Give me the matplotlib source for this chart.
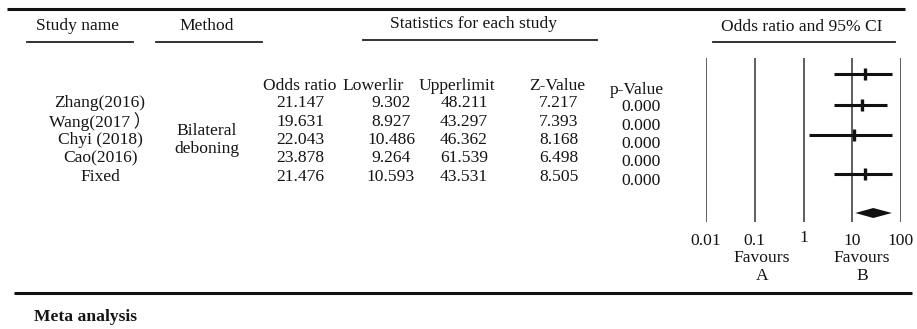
import matplotlib
matplotlib.use("Agg")
import matplotlib.pyplot as plt

# ---------------- data ----------------
studies = ["Zhang(2016)", "Wang(2017\u202f）", "Chyi (2018)", "Cao(2016)", "Fixed"]
method = "Bilateral\ndeboning"
odds_ratio = [21.147, 19.631, 22.043, 23.878, 21.476]
lower_limit = [9.302, 8.927, 10.486, 9.264, 10.593]
upper_limit = [48.211, 43.297, 46.362, 61.539, 43.531]
z_value = [7.217, 7.393, 8.168, 6.498, 8.505]
p_value = [0.000, 0.000, 0.000, 0.000, 0.000]

# forest plot marks as drawn in the picture
plot_point = [18.5, 16.0, 10.7, 18.5]
plot_low = [4.2, 4.2, 1.28, 4.2]
plot_high = [65.0, 51.0, 65.0, 65.0]
diamond_low, diamond_mid, diamond_high = 11.5, 27.0, 65.0
tick_values = [0.01, 0.1, 1, 10, 100]
tick_labels = ["0.01", "0.1", "1", "10", "100"]

# ---------------- layout ----------------
W, H = 917, 329
FAM = ["Liberation Serif", "Noto Sans CJK SC"]
FS = 12.6
fig = plt.figure(figsize=(W / 100, H / 100), dpi=100)
ax = fig.add_axes([0, 0, 1, 1])
ax.set_xlim(0, W)
ax.set_ylim(H, 0)
ax.axis("off")

def t(x, y, s, **kw):
    kw.setdefault("ha", "center")
    kw.setdefault("va", "center")
    kw.setdefault("fontsize", FS)
    kw.setdefault("family", FAM)
    ax.text(x, y, s, color="#151515", **kw)

# rules
ax.plot([7, 905], [9, 9], color="#111111", lw=2.2, solid_capstyle="butt")
ax.plot([14, 912], [293, 293], color="#111111", lw=2.2, solid_capstyle="butt")

# headers
t(78, 26, "Study name")
t(207, 26, "Method")
t(474, 24, "Statistics for each study")
t(802, 27, "Odds ratio and 95% CI")
for x0, x1, y in [(27, 133, 42), (156, 262, 42), (363, 597, 40), (713, 895, 42)]:
    ax.plot([x0, x1], [y, y], color="#222222", lw=1.3)

# column headers
row_y = [103, 121.5, 140, 158.5, 177]
t(300, 86, "Odds ratio")
t(373, 86, "Lowerlir")
t(457, 86, "Upperlimit")
t(557, 86, "Z-Value")
t(637, 89.5, "p-Value")

for i, name in enumerate(studies):
    y = row_y[i]
    t(100, y, name)
    t(300, y, f"{odds_ratio[i]:.3f}")
    t(391, y, f"{lower_limit[i]:.3f}")
    t(464, y, f"{upper_limit[i]:.3f}")
    t(559, y, f"{z_value[i]:.3f}")
    t(641, y + 4, f"{p_value[i]:.3f}")

t(207, 140, method, linespacing=1.15)

t(762, 267, "Favours\nA", linespacing=1.25)
t(862, 267, "Favours\nB", linespacing=1.25)

t(86, 317, "Meta analysis", fontweight="bold")

# ---------------- forest plot ----------------
fx0, fx1 = 706, 901
fa = fig.add_axes([fx0 / W, 0, (fx1 - fx0) / W, 1])
fa.set_xscale("log")
fa.set_xlim(0.01, 100)
fa.set_ylim(H, 0)
fa.axis("off")
fa.patch.set_alpha(0)

fa.vlines(tick_values, 58, 222, color="#333333", lw=1.1)
for v, lab in zip(tick_values, tick_labels):
    fa.text(v, 241 if lab != "1" else 238, lab, ha="center", va="center",
            fontsize=FS, family=FAM, color="#151515", clip_on=False)

forest_y = [74, 105, 135, 174]
for i in range(len(plot_point)):
    fa.hlines(forest_y[i], plot_low[i], plot_high[i], color="#111111", lw=2.2)
    fa.plot([plot_point[i]], [forest_y[i]], marker="|", markersize=9,
            mew=2.4, color="#111111")

yd = 213
fa.fill([diamond_low, diamond_mid, diamond_high, diamond_mid],
        [yd, yd - 5, yd, yd + 5], color="#111111", lw=0, clip_on=False)

fig.savefig("out.png", dpi=100)
